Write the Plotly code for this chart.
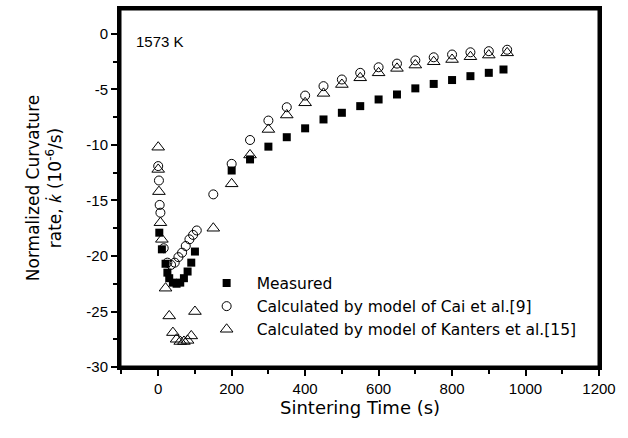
import plotly.graph_objects as go

# Measured
t_meas = [3, 10, 20, 25, 30, 40, 50, 60, 70, 80, 90, 100,
          200, 250, 300, 350, 400, 450, 500, 550, 600, 650, 700, 750, 800, 850, 900, 940]
k_meas = [-17.9, -19.4, -20.7, -21.5, -22.0, -22.4, -22.5, -22.4, -22.0, -21.4, -20.6, -19.6,
          -12.3, -11.3, -10.15, -9.3, -8.5, -7.7, -7.1, -6.5, -5.9, -5.45, -4.9, -4.5, -4.15, -3.8, -3.5, -3.2]

# Calculated by model of Cai et al.
t_cai = [0, 2, 4, 6, 15, 25, 35, 45, 55, 65, 75, 85, 95, 105,
         150, 200, 250, 300, 350, 400, 450, 500, 550, 600, 650, 700, 750, 800, 850, 900, 950]
k_cai = [-11.9, -13.2, -15.4, -16.1, -19.3, -20.6, -20.8, -20.6, -20.1, -19.7, -19.1, -18.5, -18.1, -17.7,
         -14.45, -11.7, -9.55, -7.8, -6.6, -5.55, -4.7, -4.1, -3.5, -3.0, -2.67, -2.38, -2.1, -1.85, -1.65, -1.55, -1.42]

# Calculated by model of Kanters et al.
t_kan = [0, 0, 2, 6, 10, 20, 30, 40, 50, 60, 70, 80, 90, 100,
         150, 200, 250, 300, 350, 400, 450, 500, 550, 600, 650, 700, 750, 800, 850, 900, 950]
k_kan = [-10.2, -12.2, -14.2, -17.0, -18.5, -22.9, -25.4, -26.9, -27.5, -27.7, -27.7, -27.6, -27.2, -25.0,
         -17.5, -13.5, -10.9, -8.6, -7.3, -6.2, -5.35, -4.55, -3.95, -3.5, -3.1, -2.8, -2.5, -2.3, -2.05, -1.9, -1.7]

names = ["Measured",
         "Calculated by model of Cai et al.[9]",
         "Calculated by model of Kanters et al.[15]"]

x_tickvals = [0, 200, 400, 600, 800, 1000, 1200]
x_ticktext = ["0", "200", "400", "600", "800", "1000", "1200"]
y_tickvals = [0, -5, -10, -15, -20, -25, -30]
y_ticktext = ["0", "-5", "-10", "-15", "-20", "-25", "-30"]

FONT = "Liberation Sans, Arial, sans-serif"
WIDE = "DejaVu Sans, sans-serif"

fig = go.Figure()
fig.add_trace(go.Scatter(x=t_meas, y=k_meas, mode="markers", name=names[0],
                         marker=dict(symbol="square", size=8, color="black",
                                     line=dict(width=0))))
fig.add_trace(go.Scatter(x=t_cai, y=k_cai, mode="markers", name=names[1],
                         marker=dict(symbol="circle-open", size=9, color="black",
                                     line=dict(width=1, color="black"))))
fig.add_trace(go.Scatter(x=t_kan, y=k_kan, mode="markers", name=names[2],
                         marker=dict(symbol="triangle-up-open", size=11, color="black",
                                     line=dict(width=1, color="black"))))

y_title = ("Normalized Curvature<br>rate, "
           "<span style=\"font-family:'Noto Sans'\"><i>k&#775;</i></span>"
           " (10<sup>-6</sup>/s)")

fig.update_layout(
    width=628, height=438,
    margin=dict(l=120, r=29, t=9, b=71, autoexpand=False),
    plot_bgcolor="white", paper_bgcolor="white",
    showlegend=True,
    xaxis=dict(
        range=[-104, 1200], tickvals=x_tickvals, ticktext=x_ticktext,
        showline=True, linecolor="black", linewidth=3, mirror=True,
        ticks="outside", ticklen=6, tickwidth=2, tickcolor="black",
        showgrid=False, zeroline=False, automargin=False,
        tickfont=dict(family=FONT, size=15, color="black"),
        minor=dict(ticks="outside", dtick=100, tick0=0, ticklen=4, tickwidth=2,
                   tickcolor="black", showgrid=False),
    ),
    yaxis=dict(
        range=[-30, 2.25], tickvals=y_tickvals, ticktext=y_ticktext,
        showline=True, linecolor="black", linewidth=3, mirror=True,
        ticks="outside", ticklen=6, tickwidth=2, tickcolor="black",
        showgrid=False, zeroline=False, automargin=False,
        tickfont=dict(family=FONT, size=15, color="black"),
        minor=dict(ticks="outside", dtick=2.5, tick0=0, ticklen=4, tickwidth=2,
                   tickcolor="black", showgrid=False),
        title=dict(text=y_title, standoff=21,
                   font=dict(family=WIDE, size=17, color="black")),
    ),
    legend=dict(x=0.16, y=0.281, xanchor="left", yanchor="top",
                bgcolor="rgba(0,0,0,0)", borderwidth=0, itemwidth=50,
                tracegroupgap=0,
                font=dict(family=WIDE, size=15.5, color="black")),
    font=dict(family=FONT, color="black"),
)

# plot frame
fig.add_shape(type="rect", xref="paper", yref="paper", x0=0, y0=0, x1=1, y1=1,
              line=dict(color="black", width=3), layer="above")

# x-axis title
fig.add_annotation(text="Sintering Time (s)", xref="paper", yref="paper",
                   x=0.5, y=-0.114, xanchor="center", yanchor="middle",
                   showarrow=False,
                   font=dict(family=WIDE, size=18, color="black"))

fig.add_annotation(text="1573 K", xref="paper", yref="paper", x=0.03, y=0.91,
                   xanchor="left", yanchor="middle", showarrow=False,
                   font=dict(family=FONT, size=15, color="black"))

fig.write_html("out.html", config={"displayModeBar": False},
               post_script="document.body.style.margin='0';")
